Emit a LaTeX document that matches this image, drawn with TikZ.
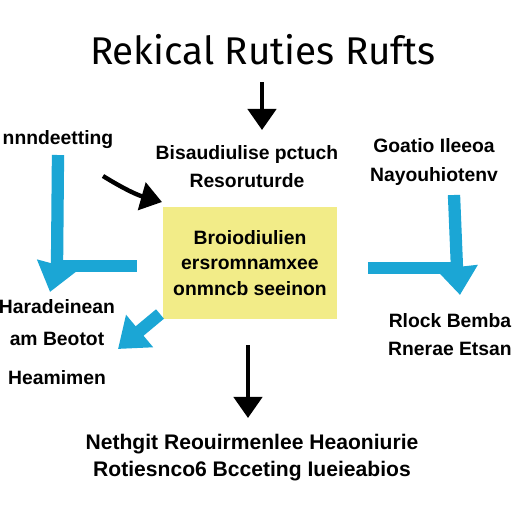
\documentclass[tikz,border=0pt]{standalone}
\usepackage{fontspec}
\setmainfont{Liberation Sans}
\newfontfamily\titlefont{Fira Sans}
\usetikzlibrary{arrows.meta}
\definecolor{flowblue}{HTML}{1BA6D5}
\definecolor{boxyellow}{HTML}{F2EC88}

\begin{document}
\begin{tikzpicture}[x=0.02cm, y=-0.02cm,
    font=\bfseries\fontsize{11}{16}\selectfont,
    lbl/.style = {align=center, inner sep=0pt},
    box/.style = {fill=boxyellow, minimum width=3.5cm, minimum height=2.26cm,
                  align=center, inner sep=0pt},
    bluearrow/.style = {flowblue, line width=7pt, -{Triangle[length=16pt,width=23pt]}},
    blueline/.style  = {flowblue, line width=7pt},
    blackarrow/.style = {black, line width=2.5pt, -{Triangle[length=12pt,width=16pt]}}]

  %% page
  \useasboundingbox[fill=white] (0,0) rectangle (512,512);
  \clip (0,0) rectangle (512,512);

  %% title
  \node[lbl, font=\titlefont\fontsize{22}{26}\selectfont] (title) at (263,50)
       {Rekical Ruties Rufts};

  %% centre box
  \node[box, font=\bfseries\fontsize{11}{14.5}\selectfont] (core) at (250,263)
       {Broiodiulien\\ ersromnamxee\\ onmncb seeinon};

  %% text blocks
  \node[lbl] (topmid)   at (247,167) {Bisaudiulise pctuch\\ Resoruturde};
  \node[lbl] (topright) at (434,162) {Goatio Ileeoa\\ Nayouhiotenv};
  \node[lbl] (topleft)  at (58,140)  {nnndeetting};
  \node[lbl] (lowleft)  at (57,342)  {Haradeinean\\[2pt] am Beotot\\[6pt] Heamimen};
  \node[lbl] (lowright) at (450,335) {Rlock Bemba\\ Rnerae Etsan};
  \node[lbl, font=\bfseries\fontsize{12}{15.3}\selectfont] (bottom) at (252,458)
       {Nethgit Reouirmenlee Heaoniurie\\ Rotiesnco6 Bcceting Iueieabios};

  %% arrow ends
  \coordinate (ttop)  at (262,82);
  \coordinate (tfoot) at (262,130);
  \coordinate (btop)  at (248,345);
  \coordinate (bfoot) at (248,418);
  \coordinate (ltop)  at (58,155);
  \coordinate (lbend) at (57,266);
  \coordinate (lhook) at (137,266);
  \coordinate (lfoot) at (50,292);
  \coordinate (rtop)  at (454,195);
  \coordinate (rbend) at (457,268);
  \coordinate (rhook) at (368,268);
  \coordinate (rfoot) at (460,295);
  \coordinate (lltop) at (160,314);
  \coordinate (llow)  at (118,349);
  \coordinate (curve) at (103,176);
  \coordinate (ctip)  at (162,202);

  %% black arrows
  \draw[blackarrow] (ttop) -- (tfoot);
  \draw[blackarrow] (curve) to[bend right=8] (ctip);
  \draw[blackarrow] (btop) -- (bfoot);

  %% blue arrows
  \draw[bluearrow] (ltop) -- (lbend) -- (lfoot);
  \draw[blueline] (lhook) -- (lbend);
  \draw[bluearrow] (rtop) -- (rbend) -- (rfoot);
  \draw[blueline] (rhook) -- (rbend);
  \draw[bluearrow] (lltop) -- (llow);

\end{tikzpicture}
\end{document}
